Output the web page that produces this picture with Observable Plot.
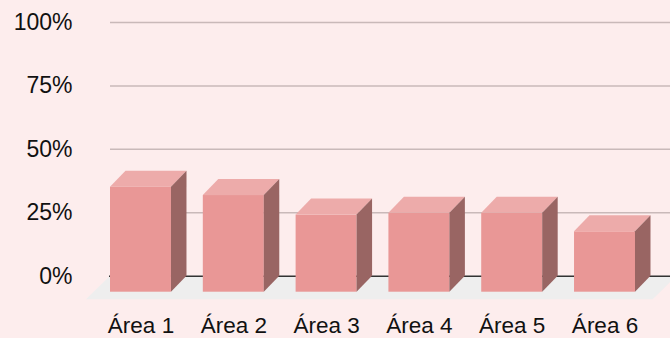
<!DOCTYPE html>
<html>
<head>
<meta charset="utf-8">
<script src="https://cdn.jsdelivr.net/npm/d3@7"></script>
<script src="https://cdn.jsdelivr.net/npm/@observablehq/plot@0.6"></script>
<style>
  html, body { margin: 0; padding: 0; background: #fdeded; overflow: hidden; }
  #chart svg { display: block; background: #fdeded !important; }
</style>
</head>
<body>
<div id="chart"></div>
<script>
const areas = ["Área 1", "Área 2", "Área 3", "Área 4", "Área 5", "Área 6"];
const values = [0.414, 0.381, 0.304, 0.311, 0.311, 0.238];
const yTicks = [0, 0.25, 0.5, 0.75, 1];
const yTickLabels = ["0%", "25%", "50%", "75%", "100%"];

const data = areas.map((a, i) => ({area: a, value: values[i]}));
const ticks = yTicks.map((t, i) => ({t, label: yTickLabels[i]}));

const DX = 15.5, DY = 16;
const colors = {front: "#e99796", top: "#edabaa", side: "#996563", floor: "#eeeeee", grid: "#c9b9b9", zero: "#333333"};

// floor parallelogram, from the scales
function floorMark(index, scales) {
  const x = scales.x, y = scales.y;
  const [r0, r1] = x.range();
  const y0 = y(0);
  const fy = y0 + 7.6, by = y0 - DY;
  const fl = r0 - 7.3, fr = r1 + 1;
  const g = d3.create("svg:g");
  g.append("path")
    .attr("d", `M${fl},${fy}L${fr},${fy}L${fr + 24},${by}L${fl + 24},${by}Z`)
    .attr("fill", colors.floor);
  return g.node();
}

// top and side faces of each bar, from the scales
function facesMark(index, scales) {
  const x = scales.x, y = scales.y;
  const bw = x.bandwidth();
  const y0 = y(0);
  const g = d3.create("svg:g");
  for (const d of data) {
    const x0 = x(d.area), x1 = x0 + bw, yt = y(d.value);
    g.append("path")
      .attr("d", `M${x0},${yt}L${x1},${yt}L${x1 + DX},${yt - DY}L${x0 + DX},${yt - DY}Z`)
      .attr("fill", colors.top);
    g.append("path")
      .attr("d", `M${x1},${yt}L${x1 + DX},${yt - DY}L${x1 + DX},${y0 - DY}L${x1},${y0}Z`)
      .attr("fill", colors.side);
  }
  return g.node();
}

const chart = Plot.plot({
  width: 670,
  height: 338,
  marginLeft: 72,
  marginRight: 0,
  marginTop: 0,
  marginBottom: 0,
  style: {background: "#fdeded", fontFamily: "'Liberation Sans', Arial, sans-serif"},
  x: {domain: areas, range: [93.3, 651.7], paddingInner: 0.343, paddingOuter: 0.18, round: false, axis: null},
  y: {domain: [0, 1], range: [291.7, 38], axis: null},
  marks: [
    floorMark,
    Plot.ruleY(yTicks.filter(t => t > 0), {y: d => d, insetLeft: 38, dy: -DY, stroke: colors.grid, strokeWidth: 1.5}),
    Plot.ruleY([0], {y: d => d, insetLeft: 37, dy: -DY, stroke: colors.zero, strokeWidth: 1.5}),
    Plot.barY(data, {x: "area", y: "value", fill: colors.front}),
    facesMark,
    Plot.text(ticks, {y: "t", text: "label", frameAnchor: "left", textAnchor: "end", dy: -DY, fontSize: 23, fill: "#111"}),
    Plot.text(areas, {x: d => d, text: d => d, frameAnchor: "bottom", lineAnchor: "middle", dy: -12.5, fontSize: 22.5, fill: "#111"})
  ]
});
document.getElementById("chart").appendChild(chart);
</script>
</body>
</html>
